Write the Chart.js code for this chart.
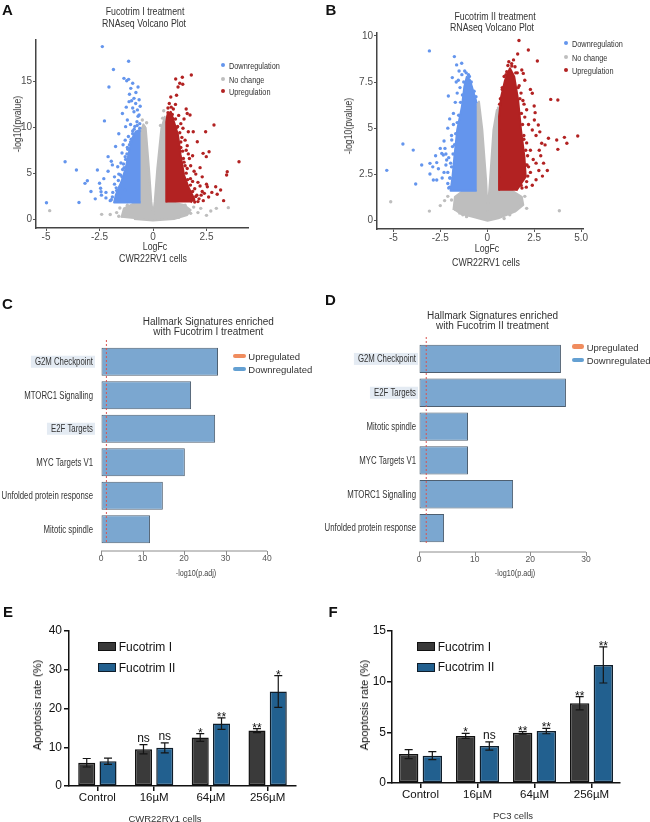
<!DOCTYPE html>
<html><head><meta charset="utf-8">
<script src="https://cdn.jsdelivr.net/npm/chart.js"></script>
<style>
body{margin:0;width:650px;height:822px;background:#fff;position:relative;overflow:hidden;font-family:'Liberation Sans',Arial,sans-serif}
canvas{position:absolute}
.t{position:absolute;white-space:nowrap;line-height:1}
.sw{position:absolute;box-sizing:border-box}
</style></head><body>
<script>
// ---------------- DATA ----------------
// Panel A volcano (Fucotrim I) : [logFC, -log10(p)]
const volcAxTicks = [-5, -2.5, 0, 2.5];
const volcAxTickLabels = ['-5', '-2.5', '0', '2.5'];
const volcAyTicks = [0, 5, 10, 15];
const volcAyTickLabels = ['0', '5', '10', '15'];
const volcA_noChangeCore = [[-1.48,0.14],[-1.36,1.16],[-0.89,1.71],[-0.58,1.8],[-0.58,9.52],[-0.45,10.32],[-0.34,9.89],[-0.19,5.53],[-0.08,1.89],[0,0.44],[0.08,1.89],[0.2,5.53],[0.39,9.89],[0.55,11.16],[0.62,10.25],[0.62,1.8],[0.98,1.78],[1.45,1.53],[1.76,0.98],[1.6,0.44],[0.98,0],[0,-0.15],[-0.89,0]];
const volcA_downCore = [[-0.58,1.8],[-1.82,1.8],[-1.74,2.62],[-1.48,4.07],[-1.28,5.53],[-1.12,7.34],[-0.97,8.8],[-0.81,9.52],[-0.65,9.7],[-0.58,9.52]];
const volcA_upCore = [[0.62,1.8],[0.62,10.6],[0.67,11.34],[0.83,11.7],[0.98,10.6],[1.17,9.16],[1.29,6.98],[1.45,4.8],[1.68,3.35],[1.92,2.25],[1.76,1.8]];
const volcA_noChange = [[-4.83,0.91],[-2.4,0.51],[3.52,1.24],[2.96,1.16],[2.7,0.87],[-1.36,0.51],[-1.05,0.33],[-0.89,0.87],[1.6,0.8],[1.76,0.62],[2.23,1.16],[1.37,1.16],[-1.55,1.2],[-1.7,0.7],[-1.2,1.5],[1.9,1.3],[2.1,0.7],[1.5,1.5],[-0.3,10.5],[-0.4,10.0],[0.45,11.0],[0.5,11.8],[0.35,10.2],[-0.5,10.8],[-2.0,0.5],[2.5,0.4],[-1.6,0.3],[1.2,0.2]];
const volcA_down = [[-2.37,18.8],[-1.14,17.2],[-1.85,16.3],[-2.06,14.4],[-2.27,10.7],[-4.11,6.25],[-3.58,5.34],[-2.6,5.34],[-3.07,4.18],[-3.18,3.89],[-4.98,1.78],[-3.46,1.8],[-2.45,3.35],[-2.43,2.98],[-2.41,2.6],[-2.1,6.8],[-1.95,6.3],[-1.36,15.34],[-1.23,15.08],[-1.14,15.23],[-1.04,14.25],[-0.89,13.16],[-1.12,12.8],[-0.81,12.6],[-0.89,11.7],[-0.73,11.9],[-0.65,11.34],[-1.43,11.5],[-1.28,10.07],[-1.2,10.8],
 [-1.6,2.2],[-1.7,3.1],[-1.55,3.5],[-1.9,2.4],[-2.0,2.0],[-2.2,2.9],[-1.8,3.8],[-1.45,4.6],[-1.6,4.9],[-1.35,5.6],[-1.5,6.1],[-1.3,6.8],[-1.45,7.2],[-1.2,7.8],[-1.05,8.4],[-1.3,8.6],[-1.15,9.0],[-0.95,9.6],[-1.05,10.3],[-0.85,10.1],[-0.75,10.6],[-0.7,11.2],[-0.95,12.1],[-1.0,12.9],[-0.8,13.8],[-0.7,14.4],[-1.1,13.6],[-0.95,14.8],[-1.25,12.2],[-1.6,9.3],[-1.75,7.9],[-2.1,5.2],[-2.3,4.4],[-2.5,3.9],[-2.2,2.3],[-1.8,4.6],[-1.65,5.7],[-1.9,5.9],[-1.4,8.1],[-1.55,2.8],[-1.7,2.0],[-1.3,3.2],[-2.7,2.2],[-2.9,3.0],[-0.6,12.3],[-0.65,13.0],[-0.62,10.4],
 [-1.95,2.1],[-1.88,2.9],[-1.72,3.4],[-1.62,4.2],[-1.52,4.8],[-1.42,5.4],[-1.38,6.0],[-1.28,6.5],[-1.22,7.1],[-1.18,7.6],[-1.1,8.1],[-1.02,8.7],[-0.95,9.3],[-0.88,9.8],[-0.74,10.2],[-0.62,9.9]];
const volcA_up = [[1.79,15.7],[1.37,15.45],[1.06,15.27],[1.25,14.8],[1.17,14.4],[1.39,14.7],[0.83,13.3],[1.1,13.5],[0.76,12.6],[0.85,12.2],[1.6,11.5],[1.73,11.34],[2.85,10.25],[2.46,9.52],[1.65,9.52],[1.88,9.52],[2.07,8.43],[2.34,7.16],[2.49,6.8],[2.62,7.34],[4.02,6.25],[3.47,5.16],[3.44,4.8],[2.54,3.52],[2.93,3.52],[3.16,3.16],[2.3,3.0],[2.4,2.8],[2.25,2.6],[1.76,5.8],[1.92,5.2],
 [1.3,10.4],[1.45,10.9],[1.2,11.3],[0.95,12.0],[1.05,12.5],[0.7,12.1],[1.4,9.9],[1.5,8.6],[1.6,8.0],[1.35,8.9],[1.55,7.5],[1.7,6.6],[1.45,6.2],[1.85,6.9],[1.6,5.5],[2.0,4.9],[1.75,4.4],[2.1,4.0],[2.2,3.6],[1.95,3.3],[2.05,2.6],[1.9,2.1],[2.15,2.2],[2.35,2.0],[2.6,2.4],[2.75,2.9],[2.5,3.8],[1.85,4.1],[2.3,4.6],[1.65,7.1],[2.2,5.6],[1.3,7.8],[0.9,11.0],[0.75,10.9],[1.15,10.1],[3.0,2.7],[3.3,2.0],[1.55,12.0],
 [0.7,11.6],[0.9,11.4],[1.05,10.9],[1.12,10.0],[1.25,9.4],[1.3,8.4],[1.38,7.4],[1.42,6.6],[1.5,5.8],[1.55,5.0],[1.62,4.3],[1.75,3.7],[1.85,3.0],[2.0,2.45],[1.95,1.85],[2.1,1.9]];

// Panel B volcano (Fucotrim II)
const volcBxTicks = [-5, -2.5, 0, 2.5, 5];
const volcBxTickLabels = ['-5', '-2.5', '0', '2.5', '5.0'];
const volcByTicks = [0, 2.5, 5, 7.5, 10];
const volcByTickLabels = ['0', '2.5', '5', '7.5', '10'];
const volcB_noChangeCore = [[-1.8,0.56],[-1.72,1.28],[-1.27,1.61],[-0.56,1.61],[-0.56,6.16],[-0.44,6.44],[-0.26,4.9],[-0.06,2.19],[0.02,0.47],[0.15,2.19],[0.33,4.9],[0.51,5.98],[0.63,6.08],[0.63,1.61],[1.31,1.61],[1.84,1.28],[1.92,0.83],[1.48,0.47],[0.59,0.11],[0.02,-0.02],[-0.83,0.2],[-1.54,0.38]];
const volcB_downCore = [[-0.56,1.61],[-1.95,1.61],[-1.85,2.37],[-1.75,3.45],[-1.6,4.9],[-1.35,6.16],[-1.22,7.25],[-1.09,7.79],[-0.92,7.61],[-0.74,6.98],[-0.56,6.35]];
const volcB_upCore = [[0.63,1.61],[0.63,5.62],[0.74,6.71],[0.95,7.61],[1.21,8.25],[1.44,7.79],[1.65,6.5],[1.8,4.9],[1.98,3.45],[2.05,2.37],[1.55,1.61]];
const volcB_noChange = [[-5.14,1.01],[-3.08,0.5],[3.84,0.52],[2.1,0.65],[-2.27,1.07],[-2.1,1.3],[-2.5,0.8],[-1.9,1.1],[-1.7,0.6],[-1.3,0.3],[1.6,1.2],[1.8,0.9],[1.2,0.3],[2.0,1.3],[-0.45,6.0],[0.6,6.1],[-0.5,6.3],[0.55,5.8],[-1.1,0.2],[0.9,0.1]];
const volcB_down = [[-3.08,9.19],[-1.75,8.88],[-1.36,8.52],[-1.63,8.43],[-1.86,7.74],[-1.54,7.6],[-2.07,6.74],[-4.49,4.14],[-3.94,3.81],[-5.35,2.71],[-3.81,1.97],[-3.49,3.0],[-3.05,3.09],[-2.69,3.13],[-3.05,2.51],[-2.87,2.19],[-2.69,2.19],[-2.34,3.54],[-2.42,3.63],[-2.25,3.9],[-2.16,3.27],[-1.89,4.36],
 [-2.0,5.5],[-2.1,5.0],[-1.9,4.6],[-2.3,4.3],[-2.5,3.9],[-2.2,3.0],[-2.1,2.6],[-2.4,2.3],[-2.1,2.0],[-2.0,1.8],[-2.6,2.8],[-2.05,3.4],[-1.8,5.8],[-1.7,6.4],[-1.6,6.9],[-1.45,7.2],[-1.35,7.9],[-1.2,8.1],[-1.5,8.1],[-1.05,7.5],[-0.85,7.2],[-0.75,6.8],[-0.65,6.5],[-0.95,7.8],[-1.8,5.2],[-1.85,4.0],[-1.95,3.1],[-2.2,3.6],[-2.0,2.3],[-1.65,7.5],[-2.3,2.6],[-2.75,3.5],[-2.9,2.9],
 [-2.05,1.75],[-1.97,2.3],[-1.9,2.9],[-1.82,3.6],[-1.74,4.1],[-1.68,4.7],[-1.6,5.3],[-1.52,5.7],[-1.42,6.4],[-1.32,6.8],[-1.25,7.5],[-1.12,8.0],[-1.0,7.9],[-0.85,7.5],[-0.7,7.0],[-0.6,6.7]];
const volcB_up = [[1.69,9.75],[1.62,9.02],[2.19,9.24],[2.67,8.64],[1.31,8.37],[1.48,8.33],[1.04,8.06],[1.84,8.15],[1.92,7.97],[3.38,6.56],[3.76,6.53],[2.4,6.89],[4.82,4.57],[4.11,4.5],[4.24,4.18],[3.26,4.45],[3.7,4.36],[3.76,3.85],[2.9,4.18],[3.08,4.09],[2.72,5.17],[2.55,5.84],[2.51,5.44],[2.77,3.8],[2.85,3.5],[2.6,3.1],[1.96,6.3],[2.1,6.0],[2.94,2.4],[2.6,2.2],[2.3,2.6],
 [1.7,7.3],[1.8,6.9],[1.9,6.5],[2.0,5.6],[2.2,5.2],[1.95,4.6],[2.1,4.2],[2.3,3.8],[2.45,3.3],[2.2,2.9],[2.1,2.1],[2.4,1.9],[1.8,1.9],[2.6,4.6],[2.4,4.9],[2.05,3.0],[2.15,3.5],[1.6,8.0],[1.15,8.6],[0.9,7.8],[0.8,7.2],[0.7,6.6],[1.4,8.7],[2.0,7.6],[2.3,7.1],[2.5,6.2],[2.8,4.8],[3.0,3.1],[3.2,2.7],[2.75,2.7],
 [0.66,6.3],[0.8,7.1],[1.0,7.9],[1.1,8.4],[1.3,8.5],[1.52,8.0],[1.65,7.2],[1.74,6.6],[1.82,5.8],[1.88,5.2],[1.95,4.4],[2.05,3.8],[2.12,3.0],[2.16,2.4],[2.08,1.8],[1.85,1.75]];

// Panels C / D : hallmark enrichment, -log10(p.adj)
const hallmarkC = ['G2M Checkpoint','MTORC1 Signalling','E2F Targets','MYC Targets V1','Unfolded protein response','Mitotic spindle'];
const hallmarkCValues = [28.2, 21.7, 27.5, 20.2, 14.9, 11.8];
const hallmarkCTicks = [0, 10, 20, 30, 40];
const hallmarkD = ['G2M Checkpoint','E2F Targets','Mitotic spindle','MYC Targets V1','MTORC1 Signalling','Unfolded protein response'];
const hallmarkDValues = [25.5, 26.4, 8.8, 8.8, 16.9, 4.5];
const hallmarkDTicks = [0, 10, 20, 30];
const highlightedTerms = ['G2M Checkpoint','E2F Targets'];
const padjThreshold = 1.3;

// Panels E / F : apoptosis rate (%)
const doses = ['Control','16\u00B5M','64\u00B5M','256\u00B5M'];
const eFucI = [6.0, 9.5, 12.5, 14.3];
const eFucIErr = [1.1, 1.2, 1.0, 0.5];
const eFucII = [6.4, 9.85, 16.1, 24.4];
const eFucIIErr = [0.8, 1.3, 1.5, 4.1];
const eSigI = ['', 'ns', '*', '**'];
const eSigII = ['', 'ns', '**', '*'];
const eYTicks = [0, 10, 20, 30, 40];
const fFucI = [2.85, 4.65, 4.95, 7.87];
const fFucIErr = [0.45, 0.25, 0.12, 0.65];
const fFucII = [2.7, 3.65, 5.13, 11.65];
const fFucIIErr = [0.4, 0.4, 0.27, 1.78];
const fSigI = ['', '*', '**', '**'];
const fSigII = ['', 'ns', '**', '**'];
const fYTicks = [0, 5, 10, 15];

// ---------------- STYLE / HELPERS ----------------
const SANS = "'Liberation Sans',Arial,sans-serif";
const NARROW_X = 0.8;   // horizontal squeeze for the condensed-looking titles
const LABEL_X = 0.78;   // horizontal squeeze for hallmark category labels
const C_DOWN = '#6495ed', C_UP = '#b22222', C_NC = '#bebebe';
Chart.defaults.animation = false;
Chart.defaults.responsive = false;
Chart.defaults.devicePixelRatio = 1;
Chart.defaults.events = [];
Chart.defaults.plugins.legend.display = false;
Chart.defaults.plugins.tooltip.enabled = false;

function mkCanvas(l, t, w, h) {
  const c = document.createElement('canvas');
  c.width = w; c.height = h;
  c.style.left = l + 'px'; c.style.top = t + 'px';
  c.style.width = w + 'px'; c.style.height = h + 'px';
  document.body.appendChild(c);
  return c;
}
function txt(s, x, y, font, color, opt) {
  opt = opt || {};
  const d = document.createElement('div');
  d.className = 't';
  d.textContent = s;
  d.style.left = x + 'px'; d.style.top = y + 'px';
  d.style.font = font; d.style.color = color || '#333';
  const sx = opt.sx ? ' scaleX(' + opt.sx + ')' : '';
  if (opt.left) { d.style.transformOrigin = '0 50%'; d.style.transform = 'translate(0,-50%)' + sx; }
  else d.style.transform = 'translate(-50%,-50%)' + (opt.rot ? ' rotate(-90deg)' : '') + sx;
  document.body.appendChild(d);
}
function box(l, t, w, h, bg, border, radius) {
  const d = document.createElement('div');
  d.className = 'sw';
  d.style.left = l + 'px'; d.style.top = t + 'px';
  d.style.width = w + 'px'; d.style.height = h + 'px';
  d.style.background = bg;
  if (border) d.style.border = border;
  if (radius) d.style.borderRadius = radius;
  document.body.appendChild(d);
}
const pts = arr => arr.map(p => ({x: p[0], y: p[1]}));
const fixedTicks = arr => (s => { s.ticks = arr.map(v => ({value: v})); });

// ---------------- VOLCANO ----------------
function volcano(canvas, cfg) {
  const poly = (d, col, order) => ({type: 'line', data: pts(d), borderColor: col, backgroundColor: col, borderWidth: 2, borderJoinStyle: 'round', fill: 'shape', pointRadius: 0, tension: 0, order: order});
  const dots = (d, col, order) => ({type: 'scatter', data: pts(d), backgroundColor: col, borderWidth: 0, pointRadius: 1.7, order: order});
  return new Chart(canvas, {
    type: 'scatter',
    data: {datasets: [
      poly(cfg.ncCore, C_NC, 10), dots(cfg.nc, C_NC, 9),
      poly(cfg.downCore, C_DOWN, 8), poly(cfg.upCore, C_UP, 8),
      dots(cfg.down, C_DOWN, 5), dots(cfg.up, C_UP, 5)
    ]},
    options: {
      layout: {padding: cfg.pad, autoPadding: false},
      scales: {
        x: {type: 'linear', min: cfg.xmin, max: cfg.xmax, afterBuildTicks: fixedTicks(cfg.xt),
            ticks: {callback: (v, i) => cfg.xtl[i], font: {family: SANS, size: 10}, color: '#4d4d4d', padding: 0, maxRotation: 0, autoSkip: false},
            grid: {display: true, drawOnChartArea: false, drawTicks: true, tickLength: 3, color: '#555', lineWidth: 1},
            border: {display: true, color: '#444', width: 1.5},
            afterFit: s => { s.height = cfg.xh; }},
        y: {type: 'linear', min: cfg.ymin, max: cfg.ymax, afterBuildTicks: fixedTicks(cfg.yt),
            ticks: {callback: (v, i) => cfg.ytl[i], font: {family: SANS, size: 10}, color: '#4d4d4d', padding: 1},
            grid: {display: true, drawOnChartArea: false, drawTicks: true, tickLength: 3, color: '#555', lineWidth: 1},
            border: {display: true, color: '#444', width: 1.5},
            afterFit: s => { s.width = cfg.yw; }}
      }
    }
  });
}

volcano(mkCanvas(0, 0, 325, 272), {
  ncCore: volcA_noChangeCore, nc: volcA_noChange, downCore: volcA_downCore, upCore: volcA_upCore, down: volcA_down, up: volcA_up,
  xmin: -5.47, xmax: 4.44, ymin: -0.98, ymax: 19.52, xt: volcAxTicks, xtl: volcAxTickLabels, yt: volcAyTicks, ytl: volcAyTickLabels,
  pad: {left: 0, top: 40, right: 77, bottom: 0}, xh: 44, yw: 36
});
volcano(mkCanvas(325, 0, 325, 272), {
  ncCore: volcB_noChangeCore, nc: volcB_noChange, downCore: volcB_downCore, upCore: volcB_upCore, down: volcB_down, up: volcB_up,
  xmin: -5.87, xmax: 5.10, ymin: -0.47, ymax: 10.16, xt: volcBxTicks, xtl: volcBxTickLabels, yt: volcByTicks, ytl: volcByTickLabels,
  pad: {left: 0, top: 33, right: 67, bottom: 0}, xh: 43, yw: 52
});

// ---------------- HALLMARK BARS ----------------
const hbarPlugin = {
  id: 'hbar',
  beforeDraw(chart, args, o) {
    const ys = chart.scales.y, ctx = chart.ctx;
    ctx.save();
    ctx.font = '10px ' + SANS;
    ctx.textAlign = 'right'; ctx.textBaseline = 'middle';
    chart.data.labels.forEach((lab, i) => {
      const w = ctx.measureText(lab).width * LABEL_X;
      const yc = ys.getPixelForTick(i);
      const right = ys.right - o.labelPad;
      if (o.highlight.includes(lab)) {
        ctx.fillStyle = '#e4ebf3';
        ctx.fillRect(right - w - 4, yc - 6, w + 6, 12);
      }
      ctx.fillStyle = '#333';
      ctx.save(); ctx.translate(right, yc); ctx.scale(LABEL_X, 1); ctx.fillText(lab, 0, 0.5); ctx.restore();
    });
    ctx.restore();
  },
  afterDatasetsDraw(chart, args, o) {
    const xs = chart.scales.x, ca = chart.chartArea, ctx = chart.ctx;
    const px = xs.getPixelForValue(o.threshold);
    ctx.save();
    ctx.strokeStyle = '#d9534f'; ctx.lineWidth = 1; ctx.setLineDash([2, 2]);
    ctx.beginPath(); ctx.moveTo(px, ca.top - 5); ctx.lineTo(px, ca.bottom - 2); ctx.stroke();
    ctx.restore();
  },
  afterDraw(chart, args, o) {
    const xs = chart.scales.x, ca = chart.chartArea, ctx = chart.ctx;
    const y = ca.bottom + o.gap;
    ctx.save();
    ctx.strokeStyle = '#8c8c8c'; ctx.lineWidth = 1;
    ctx.beginPath();
    ctx.moveTo(xs.getPixelForValue(xs.min), y); ctx.lineTo(xs.getPixelForValue(xs.max), y);
    xs.ticks.forEach(t => { const p = Math.round(xs.getPixelForValue(t.value)) + 0.5; ctx.moveTo(p, y); ctx.lineTo(p, y + 4); });
    ctx.stroke();
    ctx.restore();
  }
};
function hallmark(canvas, cfg) {
  return new Chart(canvas, {
    type: 'bar',
    data: {labels: cfg.labels, datasets: [{data: cfg.values, backgroundColor: '#7ba7d0', borderColor: '#4e5f70', borderWidth: 1, borderSkipped: false, barPercentage: 0.835, categoryPercentage: 1}]},
    options: {
      indexAxis: 'y',
      layout: {padding: cfg.pad, autoPadding: false},
      scales: {
        x: {type: 'linear', min: 0, max: cfg.max, afterBuildTicks: fixedTicks(cfg.ticks),
            ticks: {font: {family: SANS, size: 8.5}, color: '#555', padding: cfg.xpad, maxRotation: 0},
            grid: {display: true, drawOnChartArea: false, drawTicks: false}, border: {display: false},
            afterFit: s => { s.height = cfg.xh; }},
        y: {grid: {display: false, drawTicks: false}, border: {display: false},
            ticks: {display: false},
            afterFit: s => { s.width = cfg.yw; }}
      },
      plugins: {hbar: {highlight: highlightedTerms, threshold: padjThreshold, gap: cfg.gap, labelPad: cfg.ypad}}
    },
    plugins: [hbarPlugin]
  });
}
hallmark(mkCanvas(0, 290, 325, 300), {labels: hallmarkC, values: hallmarkCValues, ticks: hallmarkCTicks, max: 40,
  pad: {left: 0, top: 55, right: 58, bottom: 0}, xh: 44, yw: 101, ypad: 8, xpad: 8, gap: 5});
hallmark(mkCanvas(315, 290, 335, 300), {labels: hallmarkD, values: hallmarkDValues, ticks: hallmarkDTicks, max: 30,
  pad: {left: 0, top: 52, right: 64, bottom: 0}, xh: 45, yw: 104, ypad: 3, xpad: 10, gap: 7});

// ---------------- APOPTOSIS BARS ----------------
const errPlugin = {
  id: 'errbars',
  afterDatasetsDraw(chart, args, o) {
    const ctx = chart.ctx, ys = chart.scales.y;
    chart.data.datasets.forEach((ds, di) => {
      const meta = chart.getDatasetMeta(di);
      meta.data.forEach((bar, i) => {
        const v = ds.data[i], e = o.errors[di][i];
        const yt = ys.getPixelForValue(v + e), yb = ys.getPixelForValue(v - e);
        const x = bar.x;
        ctx.save();
        ctx.strokeStyle = '#151515'; ctx.lineWidth = 1.2;
        ctx.beginPath();
        ctx.moveTo(x, yt); ctx.lineTo(x, yb);
        ctx.moveTo(x - 4, yt); ctx.lineTo(x + 4, yt);
        ctx.moveTo(x - 4, yb); ctx.lineTo(x + 4, yb);
        ctx.stroke();
        const s = o.sig[di][i];
        if (s) {
          ctx.fillStyle = '#111';
          ctx.font = '12px ' + SANS;
          ctx.textAlign = 'center'; ctx.textBaseline = 'alphabetic';
          ctx.fillText(s, x, s.includes('*') ? yt + 3 : yt - 3);
        }
        ctx.restore();
      });
    });
  }
};
function apoptosis(canvas, cfg) {
  const axisGrid = {display: true, drawOnChartArea: false, drawTicks: true, tickLength: 5, color: '#111', lineWidth: 1.5};
  return new Chart(canvas, {
    type: 'bar',
    data: {labels: doses, datasets: [
      {label: 'Fucotrim I', data: cfg.a, backgroundColor: '#3a3a3a', borderColor: '#111', borderWidth: 1.5, borderSkipped: false, categoryPercentage: cfg.cp, barPercentage: cfg.bp},
      {label: 'Fucotrim II', data: cfg.b, backgroundColor: '#22608f', borderColor: '#0f1d2a', borderWidth: 1.5, borderSkipped: false, categoryPercentage: cfg.cp, barPercentage: cfg.bp}
    ]},
    options: {
      layout: {padding: cfg.pad, autoPadding: false},
      scales: {
        x: {grid: Object.assign({offset: false}, axisGrid), border: {display: true, color: '#111', width: 1.5},
            ticks: {font: {family: SANS, size: 11.5}, color: '#111', padding: 0, maxRotation: 0},
            afterFit: s => { s.height = cfg.xh; }},
        y: {min: 0, max: cfg.max, afterBuildTicks: fixedTicks(cfg.yt), grid: axisGrid, border: {display: true, color: '#111', width: 1.5},
            ticks: {font: {family: SANS, size: 12}, color: '#111', padding: cfg.ypad},
            afterFit: s => { s.width = cfg.yw; }}
      },
      plugins: {errbars: {errors: [cfg.ae, cfg.be], sig: [cfg.as, cfg.bs]}}
    },
    plugins: [errPlugin]
  });
}
apoptosis(mkCanvas(0, 600, 325, 222), {a: eFucI, b: eFucII, ae: eFucIErr, be: eFucIIErr, as: eSigI, bs: eSigII, max: 40, yt: eYTicks,
  cp: 0.75, bp: 0.8, pad: {left: 0, top: 31, right: 29, bottom: 0}, xh: 36, yw: 69, ypad: 2});
apoptosis(mkCanvas(325, 600, 325, 222), {a: fFucI, b: fFucII, ae: fFucIErr, be: fFucIIErr, as: fSigI, bs: fSigII, max: 15, yt: fYTicks,
  cp: 0.83, bp: 0.82, pad: {left: 0, top: 31, right: 30, bottom: 0}, xh: 39, yw: 67, ypad: 1});

// ---------------- TEXT (titles, axis titles, legends, panel letters) ----------------
const LET = 'bold 15px ' + SANS;
txt('A', 7.5, 8.5, LET, '#111'); txt('B', 331, 8.5, LET, '#111');
txt('C', 7.5, 302.5, LET, '#111'); txt('D', 330.5, 298.5, LET, '#111');
txt('E', 8, 610.5, LET, '#111'); txt('F', 333, 611, LET, '#111');

const VT = '11px ' + SANS, NX = {sx: NARROW_X};
txt('Fucotrim I treatment', 144.5, 11, VT, '#333', NX);
txt('RNAseq Volcano Plot', 143.5, 23, VT, '#333', NX);
txt('LogFc', 155, 246, VT, '#333', NX);
txt('CWR22RV1 cells', 153, 257.5, VT, '#333', NX);
txt('-log10(pvalue)', 17, 124, VT, '#333', {rot: true, sx: NARROW_X});
txt('Fucotrim II treatment', 494.5, 15.7, VT, '#333', NX);
txt('RNAseq Volcano Plot', 492, 27.3, VT, '#333', NX);
txt('LogFc', 486.5, 248.3, VT, '#333', NX);
txt('CWR22RV1 cells', 486, 261.7, VT, '#333', NX);
txt('-log10(pvalue)', 348, 126, VT, '#333', {rot: true, sx: NARROW_X});

const volcLegend = [['Downregulation', C_DOWN], ['No change', C_NC], ['Upregulation', C_UP]];
[[222.7, [65, 79, 90.7]], [565.7, [43.3, 57.3, 70]]].forEach(([dx, ys]) => {
  volcLegend.forEach(([lab, col], i) => {
    box(dx - 2, ys[i] - 2, 4, 4, col, null, '50%');
    txt(lab, dx + 6, ys[i], '9.5px ' + SANS, '#333', {left: true, sx: 0.77});
  });
});

const HT = '10px ' + SANS;
txt('Hallmark Signatures enriched', 208.3, 321, HT, '#333');
txt('with Fucotrim I treatment', 208.3, 331, HT, '#333');
txt('Hallmark Signatures enriched', 492.5, 315, HT, '#333');
txt('with Fucotrim II treatment', 492.5, 325, HT, '#333');
txt('-log10(p.adj)', 195.5, 573, '9px ' + SANS, '#444', NX);
txt('-log10(p.adj)', 515, 573, '9px ' + SANS, '#444', NX);
[[233.3, 356, 369], [571.7, 346.7, 360]].forEach(([sx, y1, y2]) => {
  box(sx, y1 - 2.3, 12.7, 4.6, '#f08c5e', null, '2.3px');
  box(sx, y2 - 2.3, 12.7, 4.6, '#64a0d2', null, '2.3px');
  txt('Upregulated', sx + 15, y1, '9.5px ' + SANS, '#333', {left: true});
  txt('Downregulated', sx + 15, y2, '9.5px ' + SANS, '#333', {left: true});
});

const LG = '12px ' + SANS;
[[97.7, 642.3, 663.3], [416.7, 642.3, 662.7]].forEach(([sx, y1, y2]) => {
  box(sx, y1, 18.6, 9, '#3a3a3a', '1.5px solid #111');
  box(sx, y2, 18.6, 9, '#22608f', '1.5px solid #0f1d2a');
  txt('Fucotrim I', sx + 21, y1 + 4.5, LG, '#111', {left: true});
  txt('Fucotrim II', sx + 21, y2 + 4.5, LG, '#111', {left: true});
});
txt('Apoptosis rate (%)', 36.7, 705, '11px ' + SANS, '#111', {rot: true});
txt('Apoptosis rate (%)', 364, 705, '11px ' + SANS, '#111', {rot: true});
txt('CWR22RV1 cells', 165, 818, '9.5px ' + SANS, '#333');
txt('PC3 cells', 513, 815, '9.5px ' + SANS, '#333');
</script>
</body></html>
